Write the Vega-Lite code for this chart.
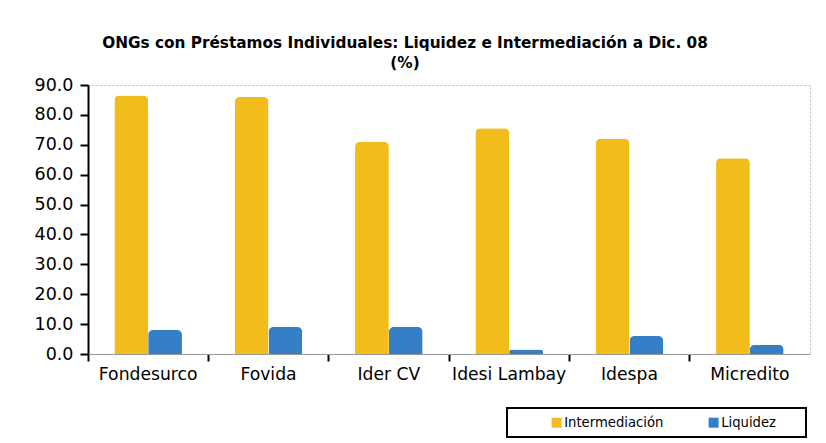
{
  "$schema": "https://vega.github.io/schema/vega-lite/v6.json",
  "width": 722,
  "height": 269,
  "autosize": {"type": "none"},
  "padding": {"left": 88, "top": 85, "right": 16, "bottom": 89},
  "background": "white",
  "title": {
    "text": ["ONGs con Préstamos Individuales: Liquidez e Intermediación a Dic. 08", "(%)"],
    "font": "DejaVu Sans",
    "fontSize": 15.3,
    "fontWeight": "bold",
    "color": "black",
    "anchor": "middle",
    "dx": -44,
    "offset": 5,
    "lineHeight": 20
  },
  "data": {
    "values": [
      {"ong": "Fondesurco", "serie": "Intermediación", "valor": 86.5},
      {"ong": "Fondesurco", "serie": "Liquidez", "valor": 8.0},
      {"ong": "Fovida", "serie": "Intermediación", "valor": 86.0},
      {"ong": "Fovida", "serie": "Liquidez", "valor": 9.0},
      {"ong": "Ider CV", "serie": "Intermediación", "valor": 71.0},
      {"ong": "Ider CV", "serie": "Liquidez", "valor": 9.0},
      {"ong": "Idesi Lambay", "serie": "Intermediación", "valor": 75.5},
      {"ong": "Idesi Lambay", "serie": "Liquidez", "valor": 1.5},
      {"ong": "Idespa", "serie": "Intermediación", "valor": 72.0},
      {"ong": "Idespa", "serie": "Liquidez", "valor": 6.0},
      {"ong": "Micredito", "serie": "Intermediación", "valor": 65.5},
      {"ong": "Micredito", "serie": "Liquidez", "valor": 3.0}
    ]
  },
  "mark": {"type": "bar", "cornerRadiusTopLeft": 5, "cornerRadiusTopRight": 5},
  "encoding": {
    "x": {
      "field": "ong",
      "type": "nominal",
      "sort": null,
      "scale": {"paddingInner": 0, "paddingOuter": 0},
      "axis": {
        "title": null,
        "labelAngle": 0,
        "bandPosition": 0,
        "ticks": true,
        "tickSize": 7,
        "tickWidth": 2,
        "tickColor": "black",
        "domainColor": "#999",
        "domainWidth": 1,
        "labelFont": "DejaVu Sans",
        "labelFontSize": 17.2,
        "labelColor": "black",
        "labelPadding": 4
      }
    },
    "xOffset": {
      "field": "serie",
      "sort": ["Intermediación", "Liquidez"],
      "scale": {"paddingInner": 0, "paddingOuter": 0.78}
    },
    "y": {
      "field": "valor",
      "type": "quantitative",
      "scale": {"domain": [0, 90]},
      "axis": {
        "title": null,
        "values": [0, 10, 20, 30, 40, 50, 60, 70, 80, 90],
        "format": ".1f",
        "grid": false,
        "tickSize": 8,
        "tickWidth": 2,
        "tickColor": "black",
        "domainColor": "black",
        "domainWidth": 2,
        "labelFont": "DejaVu Sans",
        "labelFontSize": 17.5,
        "labelColor": "black",
        "labelPadding": 7
      }
    },
    "color": {
      "field": "serie",
      "type": "nominal",
      "scale": {"domain": ["Intermediación", "Liquidez"], "range": ["#F2BC1A", "#347FC6"]},
      "legend": {
        "title": " ",
        "titleOrient": "right",
        "titlePadding": 22,
        "titleFontSize": 8,
        "orient": "none",
        "legendX": 419,
        "legendY": 323,
        "direction": "horizontal",
        "columns": 2,
        "strokeColor": "black",
        "fillColor": "white",
        "padding": 8,
        "symbolOffset": 35,
        "columnPadding": 8,
        "symbolType": "square",
        "symbolSize": 100,
        "symbolStrokeWidth": 0,
        "labelFont": "DejaVu Sans",
        "labelFontSize": 13.2,
        "labelColor": "black",
        "labelOffset": 1,
        "encode": {"legend": {"update": {"strokeWidth": {"value": 2}}}}
      }
    }
  },
  "config": {
    "view": {"stroke": "#bbb", "strokeDash": [2, 2]}
  }
}
